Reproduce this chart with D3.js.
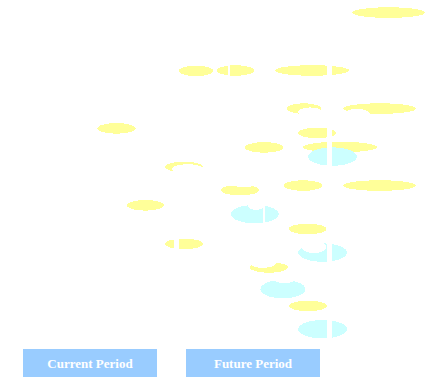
<!DOCTYPE html>
<html>
<head>
<meta charset="utf-8">
<script src="https://cdn.jsdelivr.net/npm/d3@7/dist/d3.min.js"></script>
<style>
  html, body { margin: 0; padding: 0; background: #fff; }
  svg { display: block; }
  ellipse, rect { shape-rendering: crispEdges; }
</style>
</head>
<body>
<div id="chart"></div>
<script>
// ---- data (values on a 0-100 timeline / 0-100 row position) ----
const currentStart = [82.1, 41.7, 50.6, 64.1, 66.9, 80.0, 22.7, 69.5, 57.1, 70.6, 38.5, 51.5, 66.2, 80.0, 29.6, 67.3, 38.5, 58.3, 67.4];
const currentEnd   = [99.1, 49.7, 59.2, 81.4, 74.8, 97.0, 31.6, 78.3, 66.0, 87.9, 47.3, 60.4, 75.1, 97.0, 38.2, 76.1, 47.3, 67.1, 76.2];
const currentRow   = [3.3, 18.6, 18.5, 18.5, 28.5, 28.5, 33.7, 34.9, 38.7, 38.6, 43.8, 49.9, 48.7, 48.7, 53.9, 60.1, 64.0, 70.2, 80.3];

const futureStart = [71.8, 53.8, 69.5, 60.7, 69.5];
const futureEnd   = [83.2, 65.0, 80.9, 71.2, 80.9];
const futureRow   = [41.1, 56.2, 66.3, 75.9, 86.4];

// gaps (white cuts) : [start, end, rowTop, rowBottom]
const gapStart = [76.3, 53.1, 40.6, 61.3];
const gapEnd   = [77.5, 53.6, 41.7, 61.7];
const gapTop   = [15.7, 16.8, 62.5, 53.8];
const gapBot   = [89.8, 20.2, 65.6, 58.5];

// erased spots : centre x, centre row, half-width, half-height
const spotX  = [72.3, 83.2, 43.8, 56.9, 59.7, 73.2, 61.3, 66.4];
const spotY  = [29.4, 29.9, 44.4, 48.4, 53.8, 64.8, 69.0, 73.5];
const spotRX = [2.8, 3.0, 3.7, 3.3, 1.9, 2.8, 3.0, 2.3];
const spotRY = [1.2, 1.3, 1.3, 0.66, 1.3, 1.6, 1.3, 0.8];

const legendLabels = ["Current Period", "Future Period"];

// ---- drawing ----
const W = 429, H = 381;
const svg = d3.select("#chart").append("svg").attr("width", W).attr("height", H);

const x = d3.scaleLinear().domain([0, 100]).range([0, W]);
const y = d3.scaleLinear().domain([0, 100]).range([0, H]);

const current = currentStart.map((s, i) => ({ s, e: currentEnd[i], r: currentRow[i] }));
const future = futureStart.map((s, i) => ({ s, e: futureEnd[i], r: futureRow[i] }));

svg.append("g").selectAll("ellipse").data(current).join("ellipse")
  .attr("cx", d => (x(d.s) + x(d.e)) / 2)
  .attr("cy", d => y(d.r))
  .attr("rx", d => (x(d.e) - x(d.s)) / 2)
  .attr("ry", 5.3)
  .attr("fill", "#FFFF99");

svg.append("g").selectAll("ellipse").data(future).join("ellipse")
  .attr("cx", d => (x(d.s) + x(d.e)) / 2)
  .attr("cy", d => y(d.r))
  .attr("rx", d => (x(d.e) - x(d.s)) / 2)
  .attr("ry", 9.2)
  .attr("fill", "#CCFFFF");

const spots = spotX.map((v, i) => ({ x: v, y: spotY[i], rx: spotRX[i], ry: spotRY[i] }));
svg.append("g").selectAll("ellipse").data(spots).join("ellipse")
  .attr("cx", d => x(d.x))
  .attr("cy", d => y(d.y))
  .attr("rx", d => x(d.rx) - x(0))
  .attr("ry", d => y(d.ry) - y(0))
  .attr("fill", "#fff");

const gaps = gapStart.map((s, i) => ({ s, e: gapEnd[i], t: gapTop[i], b: gapBot[i] }));
svg.append("g").selectAll("rect").data(gaps).join("rect")
  .attr("x", d => x(d.s))
  .attr("width", d => x(d.e) - x(d.s))
  .attr("y", d => y(d.t))
  .attr("height", d => y(d.b) - y(d.t))
  .attr("fill", "#fff");

// legend buttons
const band = d3.scaleBand().domain(legendLabels).range([23, 320]).paddingInner(0.178).paddingOuter(0);
const lg = svg.append("g").selectAll("g").data(legendLabels).join("g")
  .attr("transform", d => `translate(${band(d)},349)`);
lg.append("rect")
  .attr("width", band.bandwidth())
  .attr("height", 28)
  .attr("fill", "#99CCFF");
lg.append("text")
  .attr("x", band.bandwidth() / 2)
  .attr("y", 19)
  .attr("text-anchor", "middle")
  .attr("fill", "#fff")
  .attr("font-family", "'Liberation Serif', 'Times New Roman', serif")
  .attr("font-weight", "bold")
  .attr("font-size", 13)
  .text(d => d);
</script>
</body>
</html>
